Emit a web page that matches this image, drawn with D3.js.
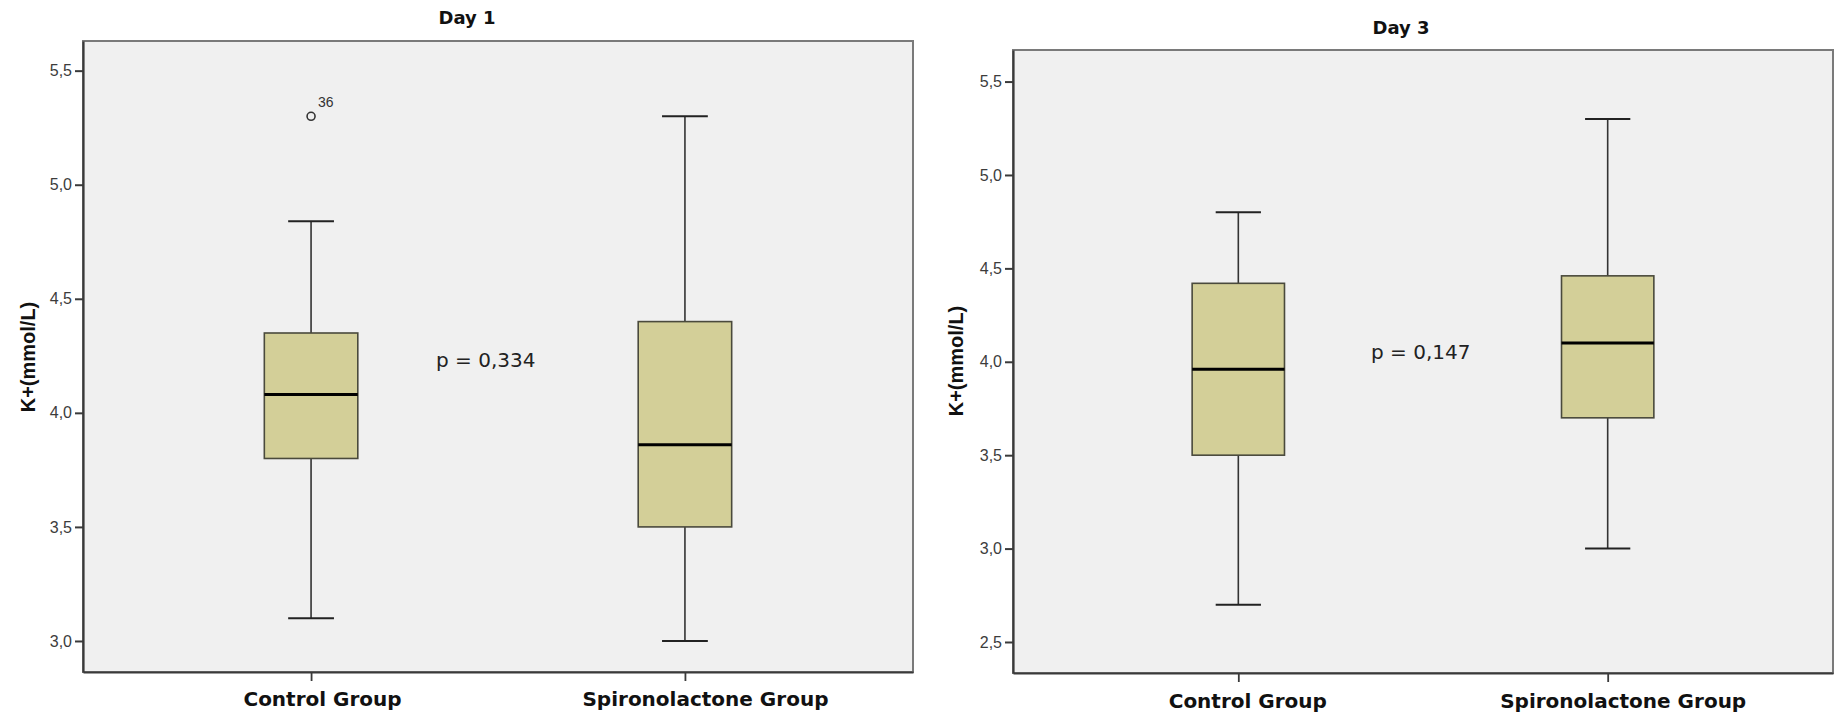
<!DOCTYPE html>
<html>
<head>
<meta charset="utf-8">
<script src="https://cdn.jsdelivr.net/npm/d3@7"></script>
<style>
  html, body { margin: 0; padding: 0; background: #fff; }
  svg { display: block; }
</style>
</head>
<body>
<div id="chart"></div>
<script>
// ---- data ----
const groups = ["Control Group", "Spironolactone Group"];

// Day 1 box statistics, one value per group
const day1Low    = [3.10, 3.00];
const day1Q1     = [3.80, 3.50];
const day1Median = [4.08, 3.86];
const day1Q3     = [4.35, 4.40];
const day1High   = [4.84, 5.30];
const day1Outliers = [{ group: "Control Group", value: 5.30, label: "36" }];

// Day 3 box statistics
const day3Low    = [2.70, 3.00];
const day3Q1     = [3.50, 3.70];
const day3Median = [3.96, 4.10];
const day3Q3     = [4.42, 4.46];
const day3High   = [4.80, 5.30];
const day3Outliers = [];

const day1Ticks = [3.0, 3.5, 4.0, 4.5, 5.0, 5.5];
const day3Ticks = [2.5, 3.0, 3.5, 4.0, 4.5, 5.0, 5.5];

const titles = ["Day 1", "Day 3"];
const pValues = ["p = 0,334", "p = 0,147"];
const yLabel = "K+(mmol/L)";

// build the box rows
function makeBoxes(low, q1, med, q3, high) {
    return groups.map((g, i) => ({ group: g, low: low[i], q1: q1[i], median: med[i], q3: q3[i], high: high[i] }));
}

// ---- layout of the two panels (pixels) ----
const panels = [
    {
        title: titles[0], p: pValues[0], ticks: day1Ticks,
        boxes: makeBoxes(day1Low, day1Q1, day1Median, day1Q3, day1High),
        outliers: day1Outliers,
        left: 83, top: 41, right: 913, bottom: 672,
        domain: [2.864, 5.63],
        titleX: 467, titleY: 24,
        pX: 436, pY: 367,
        yLabelX: 35, yLabelY: 357,
        labelDx: [11, 20], labelY: 706
    },
    {
        title: titles[1], p: pValues[1], ticks: day3Ticks,
        boxes: makeBoxes(day3Low, day3Q1, day3Median, day3Q3, day3High),
        outliers: day3Outliers,
        left: 1013, top: 50, right: 1833, bottom: 673,
        domain: [2.334, 5.669],
        titleX: 1401, titleY: 34,
        pX: 1371, pY: 359,
        yLabelX: 963, yLabelY: 361,
        labelDx: [9, 15], labelY: 708
    }
];

const fullWidth = 1835, fullHeight = 714;
const boxFill = "#d3cf98";
const plotBg = "#f0f0f0";

const svg = d3.select("#chart").append("svg")
    .attr("width", fullWidth)
    .attr("height", fullHeight);

panels.forEach(pan => {
    const width = pan.right - pan.left;
    const height = pan.bottom - pan.top;

    const g = svg.append("g")
        .attr("transform", `translate(${pan.left},${pan.top})`);

    // scales
    const x = d3.scalePoint()
        .domain(groups)
        .range([0, width])
        .padding(0.61);

    const y = d3.scaleLinear()
        .domain(pan.domain)
        .range([height, 0]);

    const step = x.step();
    const boxW = step * 0.25;
    const capW = boxW * 0.49;

    // plot background + frame
    g.append("rect")
        .attr("width", width)
        .attr("height", height)
        .attr("fill", plotBg)
        .attr("stroke", "#7a7a7a")
        .attr("stroke-width", 2);

    // y axis
    const yAxis = g.append("g")
        .call(d3.axisLeft(y)
            .tickValues(pan.ticks)
            .tickFormat(d => d3.format(".1f")(d).replace(".", ","))
            .tickSizeInner(8)
            .tickSizeOuter(0)
            .tickPadding(3));
    yAxis.select(".domain").attr("stroke", "#3a3a3a").attr("stroke-width", 2.2);
    yAxis.selectAll(".tick line").attr("stroke", "#3a3a3a").attr("stroke-width", 2);
    yAxis.selectAll(".tick text")
        .attr("fill", "#3c3c3c")
        .style("font-family", "'Liberation Sans', Arial, sans-serif")
        .style("font-size", "16px");

    // x axis
    const xAxis = g.append("g")
        .attr("transform", `translate(0,${height})`)
        .call(d3.axisBottom(x).tickSizeInner(9).tickSizeOuter(0));
    xAxis.select(".domain").attr("stroke", "#3a3a3a").attr("stroke-width", 2.2);
    xAxis.selectAll(".tick line").attr("stroke", "#3a3a3a").attr("stroke-width", 1.8);
    xAxis.selectAll(".tick text")
        .attr("y", pan.labelY - pan.bottom)
        .attr("dy", 0)
        .attr("dx", (d, i) => pan.labelDx[i])
        .attr("fill", "#111")
        .style("font-family", "'DejaVu Sans', Verdana, sans-serif")
        .style("font-weight", "bold")
        .style("font-size", "20px");

    // boxes
    const box = g.selectAll(".box")
        .data(pan.boxes)
        .enter().append("g")
        .attr("class", "box")
        .attr("transform", d => `translate(${x(d.group)},0)`);

    // whiskers
    box.append("line")
        .attr("x1", 0).attr("x2", 0)
        .attr("y1", d => y(d.high)).attr("y2", d => y(d.q3))
        .attr("stroke", "#333").attr("stroke-width", 1.6);
    box.append("line")
        .attr("x1", 0).attr("x2", 0)
        .attr("y1", d => y(d.q1)).attr("y2", d => y(d.low))
        .attr("stroke", "#333").attr("stroke-width", 1.6);

    // caps
    box.append("line")
        .attr("x1", -capW / 2).attr("x2", capW / 2)
        .attr("y1", d => y(d.high)).attr("y2", d => y(d.high))
        .attr("stroke", "#222").attr("stroke-width", 2);
    box.append("line")
        .attr("x1", -capW / 2).attr("x2", capW / 2)
        .attr("y1", d => y(d.low)).attr("y2", d => y(d.low))
        .attr("stroke", "#222").attr("stroke-width", 2);

    // box body
    box.append("rect")
        .attr("x", -boxW / 2)
        .attr("width", boxW)
        .attr("y", d => y(d.q3))
        .attr("height", d => y(d.q1) - y(d.q3))
        .attr("fill", boxFill)
        .attr("stroke", "#4a4a3c")
        .attr("stroke-width", 1.6);

    // median
    box.append("line")
        .attr("x1", -boxW / 2).attr("x2", boxW / 2)
        .attr("y1", d => y(d.median)).attr("y2", d => y(d.median))
        .attr("stroke", "#000").attr("stroke-width", 3);

    // outliers
    const out = g.selectAll(".outlier")
        .data(pan.outliers)
        .enter().append("g")
        .attr("class", "outlier")
        .attr("transform", d => `translate(${x(d.group)},${y(d.value)})`);
    out.append("circle")
        .attr("r", 4)
        .attr("fill", "none")
        .attr("stroke", "#333")
        .attr("stroke-width", 1.6);
    out.append("text")
        .attr("x", 7)
        .attr("y", -9)
        .attr("fill", "#333")
        .style("font-family", "'Liberation Sans', Arial, sans-serif")
        .style("font-size", "14px")
        .text(d => d.label);

    // p-value annotation
    svg.append("text")
        .attr("x", pan.pX)
        .attr("y", pan.pY)
        .attr("fill", "#222")
        .style("font-family", "'DejaVu Sans', Verdana, sans-serif")
        .style("font-size", "20px")
        .text(pan.p);

    // title
    svg.append("text")
        .attr("x", pan.titleX)
        .attr("y", pan.titleY)
        .attr("text-anchor", "middle")
        .attr("fill", "#111")
        .style("font-family", "'DejaVu Sans', Verdana, sans-serif")
        .style("font-weight", "bold")
        .style("font-size", "18px")
        .text(pan.title);

    // y axis label
    svg.append("text")
        .attr("transform", `translate(${pan.yLabelX},${pan.yLabelY}) rotate(-90)`)
        .attr("text-anchor", "middle")
        .attr("fill", "#111")
        .style("font-family", "'Liberation Sans', Arial, sans-serif")
        .style("font-weight", "bold")
        .style("font-size", "20px")
        .text(yLabel);
});
</script>
</body>
</html>
